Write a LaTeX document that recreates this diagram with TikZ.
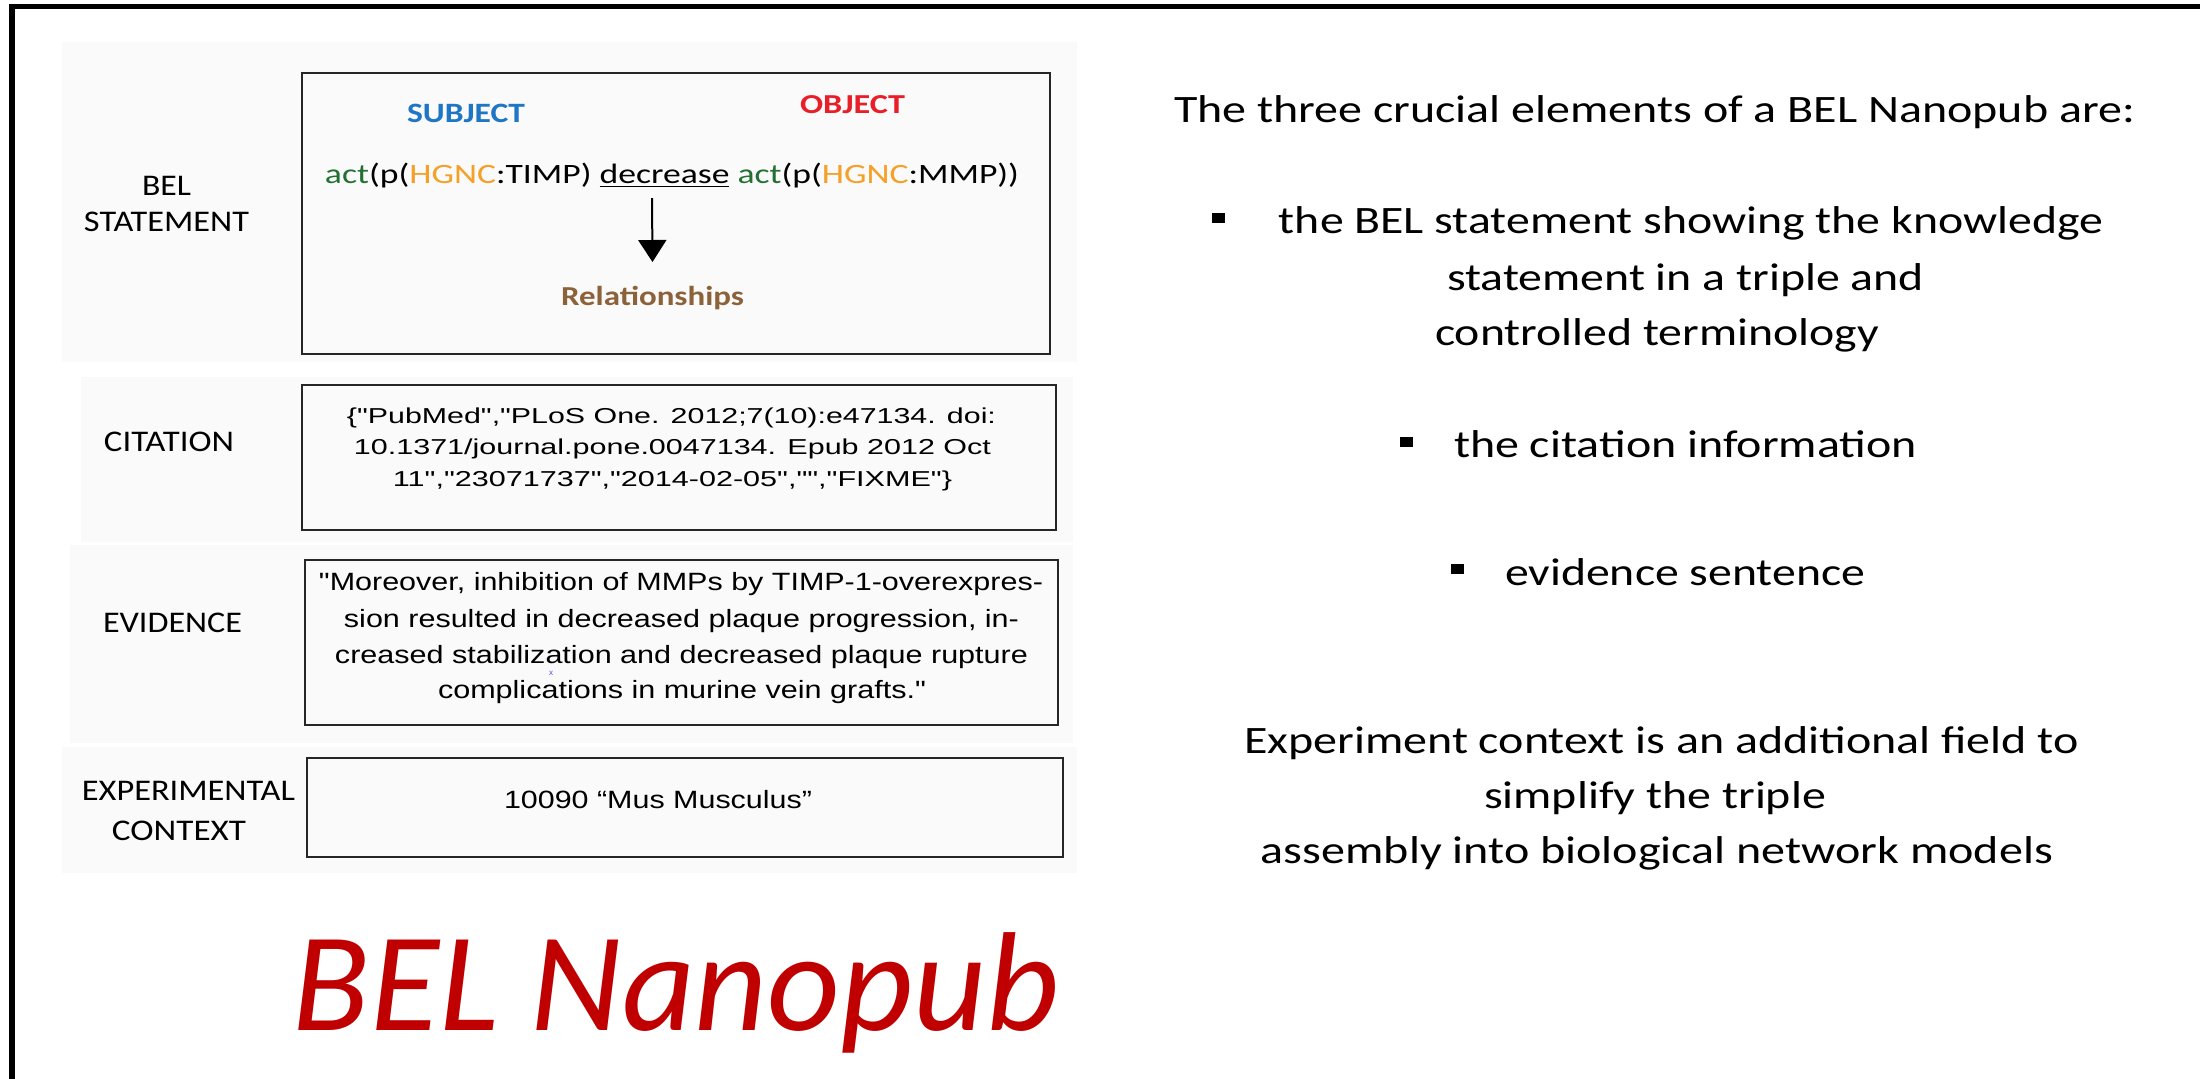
\documentclass[tikz,border=0pt]{standalone}
\usepackage{fontspec}
\setmainfont{Carlito}
\newfontfamily\arialf{Liberation Sans}
\usetikzlibrary{arrows.meta}
\definecolor{subjc}{RGB}{30,118,196}
\definecolor{objc}{RGB}{232,30,40}
\definecolor{actc}{RGB}{34,112,52}
\definecolor{hgncc}{RGB}{245,160,40}
\definecolor{relc}{RGB}{140,98,58}
\definecolor{titlec}{RGB}{192,0,0}
\definecolor{panelc}{RGB}{250,250,250}
\newcommand\fitw[2]{\resizebox{#1pt}{\height}{#2}}
\begin{document}
\begin{tikzpicture}[x=0.5pt,y=-0.5pt,
  box/.style={draw=black!85, line width=1.3pt, minimum width=#1, inner sep=0pt},
  lbl/.style={anchor=base, inner sep=0pt, font=\fontsize{15}{18}\selectfont},
  stmt/.style={anchor=base, inner sep=0pt, font=\fontsize{14}{17}\selectfont},
  cite/.style={anchor=base, inner sep=0pt, font=\arialf\fontsize{10.8}{13}\selectfont},
  evid/.style={anchor=base, inner sep=0pt, font=\arialf\fontsize{12.5}{15}\selectfont},
  rtext/.style={anchor=base, inner sep=0pt, font=\fontsize{19.4}{23}\selectfont},
  bulletsq/.style={fill=black, minimum width=6.5pt, minimum height=5pt, inner sep=0pt}]
\useasboundingbox (0,0) rectangle (2200,1078);
\fill[white] (0,0) rectangle (2200,1078);
% outer frame (right and bottom edges lie outside the picture)
\draw[line width=2.8pt] (12,1100) -- (12,6.5) -- (2220,6.5);
% light panels
\fill[panelc] (62,42) rectangle (1077,362);
\fill[panelc] (81,377) rectangle (1073,542);
\fill[panelc] (70,545) rectangle (1073,743);
\fill[panelc] (62,747) rectangle (1077,873);
% boxes
\node[box=374pt, minimum height=140.5pt] (belbox) at (676,213.5) {};
\node[box=377pt, minimum height=72.5pt] (citebox) at (679,457.5) {};
\node[box=376.5pt, minimum height=82.5pt] (evbox) at (681.5,642.5) {};
\node[box=378pt, minimum height=49.5pt] (expbox) at (685,807.5) {};
% left labels
\node[lbl] (l1a) at (166.5,195) {\fitw{24.5}{BEL}};
\node[lbl] (l1b) at (166.5,231) {\fitw{82.5}{STATEMENT}};
\node[lbl] (l2) at (169,451) {\fitw{65}{CITATION}};
\node[lbl] (l3) at (172.5,632) {\fitw{69.5}{EVIDENCE}};
\node[lbl] (l4a) at (188.5,800) {\fitw{106.5}{EXPERIMENTAL}};
\node[lbl] (l4b) at (179,840) {\fitw{67}{CONTEXT}};
% BEL statement
\node[anchor=base, inner sep=0pt, text=subjc, font=\bfseries\fontsize{14}{17}\selectfont] (subj) at (466,122) {\fitw{59}{SUBJECT}};
\node[anchor=base, inner sep=0pt, text=objc, font=\bfseries\fontsize{13.7}{17}\selectfont] (obj) at (852.5,113) {\fitw{52.5}{OBJECT}};
\node[stmt] (stmt) at (672,183) {\fitw{347}{\textcolor{actc}{act}(p(\textcolor{hgncc}{HGNC}:TIMP) \underline{decrease} \textcolor{actc}{act}(p(\textcolor{hgncc}{HGNC}:MMP))}};
\node[anchor=base, inner sep=0pt, text=relc, font=\bfseries\fontsize{13.7}{17}\selectfont] (rel) at (652.5,305) {\fitw{91.5}{Relationships}};
\coordinate (arrtop) at (652,198);
\draw[line width=1pt, -{Triangle[width=14pt,length=11pt]}] (arrtop) -- (rel.north |- 0,262);
% citation
\node[cite] (c1) at (671.5,423) {\fitw{324.5}{\{"PubMed","PLoS One. 2012;7(10):e47134. doi:}};
\node[cite] (c2) at (672.5,454) {\fitw{318.5}{10.1371/journal.pone.0047134. Epub 2012 Oct}};
\node[cite] (c3) at (672.5,486) {\fitw{279.5}{11","23071737","2014-02-05","","FIXME"\}}};
% evidence
\node[evid] (e1) at (681,590) {\fitw{362}{"Moreover, inhibition of MMPs by TIMP-1-overexpres-}};
\node[evid] (e2) at (681.5,627) {\fitw{337.5}{sion resulted in decreased plaque progression, in-}};
\node[evid] (e3) at (681.5,663) {\fitw{346.5}{creased stabilization and decreased plaque rupture}};
\node[evid] (e4) at (682,698) {\fitw{244}{complications in murine vein grafts."}};
\node[text=blue!70, font=\arialf\fontsize{4}{5}\selectfont, inner sep=0pt] (xmark) at (551,673) {x};
% experimental context
\node[evid] (x1) at (658,808) {\fitw{154}{10090 “Mus Musculus”}};
% title
\node[anchor=base, inner sep=0pt, text=titlec, font=\itshape\fontsize{70.5}{80}\selectfont] (title) at (676,1030) {\fitw{383}{BEL Nanopub}};
% right side
\node[rtext] (r0) at (1654.5,122) {\fitw{480.5}{The three crucial elements of a BEL Nanopub are:}};
\node[bulletsq] (b1) at (1218,218) {};
\node[rtext] (r1a) at (1691,233) {\fitw{412}{the BEL statement showing the knowledge}};
\node[rtext] (r1b) at (1685.5,290) {\fitw{238.5}{statement in a triple and}};
\node[rtext] (r1c) at (1657,345) {\fitw{222}{controlled terminology}};
\node[bulletsq] (b2) at (1406,442) {};
\node[rtext] (r2) at (1685.5,457) {\fitw{231.5}{the citation information}};
\node[bulletsq] (b3) at (1457,568.5) {};
\node[rtext] (r3) at (1685,585) {\fitw{180}{evidence sentence}};
\node[rtext] (r4a) at (1661.5,753) {\fitw{417.5}{Experiment context is an additional field to}};
\node[rtext] (r4b) at (1655,808) {\fitw{171}{simplify the triple}};
\node[rtext] (r4c) at (1657,863) {\fitw{396}{assembly into biological network models}};
\end{tikzpicture}
\end{document}
